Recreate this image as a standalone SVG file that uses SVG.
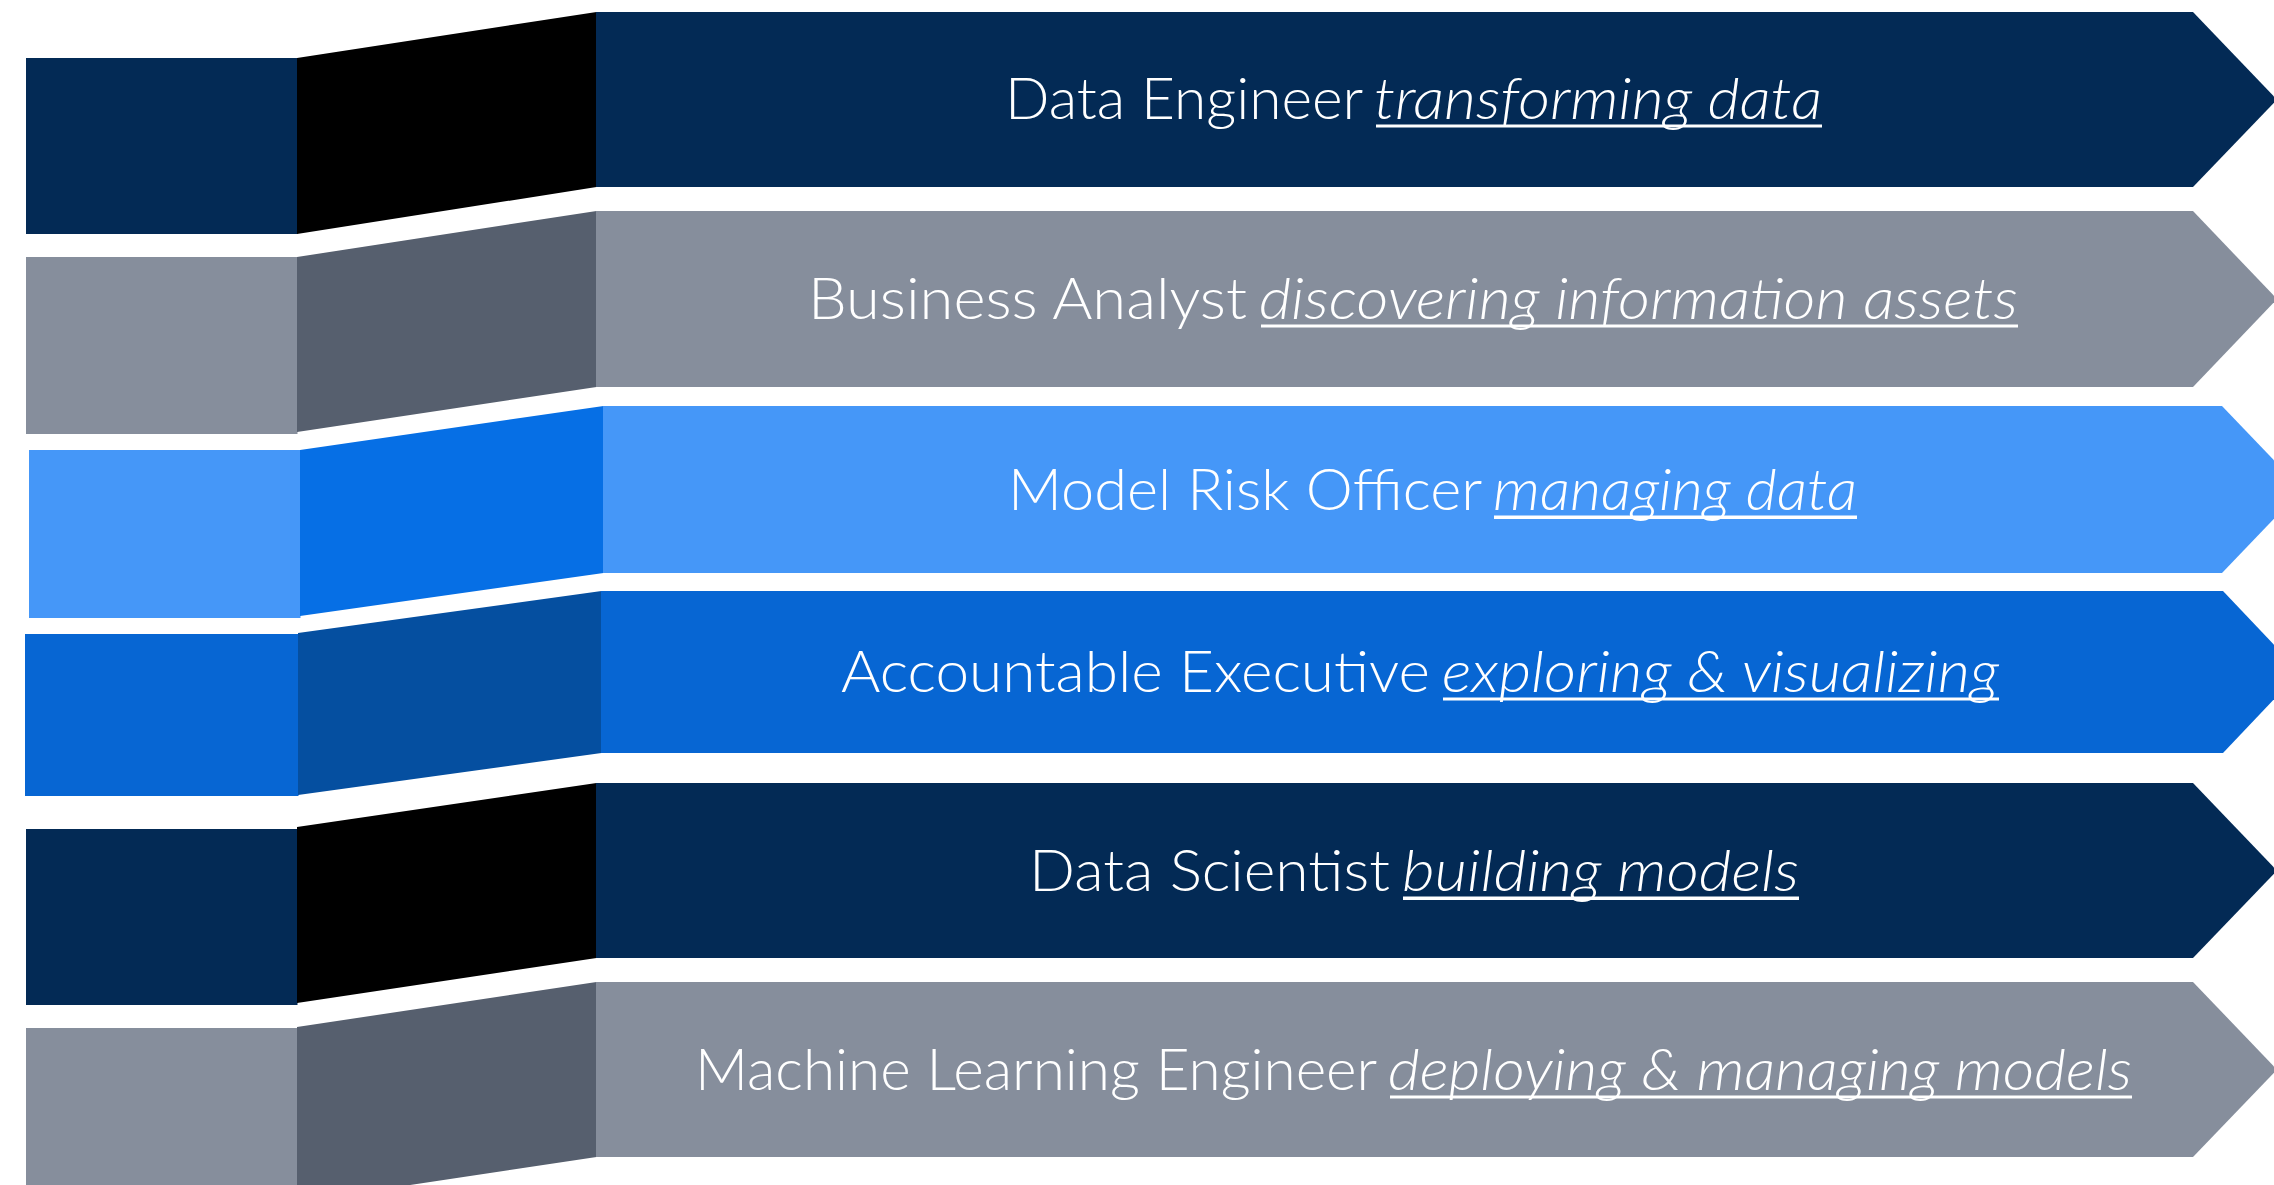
<svg xmlns="http://www.w3.org/2000/svg" width="2274" height="1185" viewBox="0 0 2274 1185">
<style>
.navy{fill:#032a55}
.black{fill:#000000}
.gray{fill:#868e9c}
.dgray{fill:#565f6e}
.lblue{fill:#4597f8}
.blue{fill:#066fe5}
.mblue{fill:#0766d3}
.dblue{fill:#054fa0}
.lbl{font-family:Lato,"Open Sans","Liberation Sans",sans-serif;font-weight:300;font-size:57px;fill:#ffffff}
.it{font-style:italic}
.ul{fill:#ffffff}
</style>
<rect width="2274" height="1185" fill="#ffffff"/>
<g id="row1">
<rect class="navy" x="26" y="58" width="271.5" height="176"/>
<polygon class="black" points="297,58 596.5,12 596.5,187 297,234"/>
<polygon class="navy" points="596,12 2193,12 2277,99.5 2193,187 596,187"/>
<text class="lbl" y="119"><tspan x="1005" textLength="357" lengthAdjust="spacingAndGlyphs">Data Engineer</tspan> <tspan class="it" x="1374" textLength="448" lengthAdjust="spacingAndGlyphs">transforming data</tspan></text>
<rect class="ul" x="1376" y="124.5" width="446" height="3"/>
</g>
<g id="row2">
<rect class="gray" x="26" y="257" width="271.5" height="177"/>
<polygon class="dgray" points="297,257 596.5,211 596.5,387 297,432"/>
<polygon class="gray" points="596,211 2193,211 2277,299 2193,387 596,387"/>
<text class="lbl" y="319"><tspan x="808" textLength="439" lengthAdjust="spacingAndGlyphs">Business Analyst</tspan> <tspan class="it" x="1259" textLength="759" lengthAdjust="spacingAndGlyphs">discovering information assets</tspan></text>
<rect class="ul" x="1261" y="324.5" width="757" height="3"/>
</g>
<g id="row3">
<rect class="lblue" x="29" y="450" width="271.5" height="168"/>
<polygon class="blue" points="300,450 603.5,406 603.5,573 300,616"/>
<polygon class="lblue" points="603,406 2222,406 2302,489.5 2222,573 603,573"/>
<text class="lbl" y="510"><tspan x="1008" textLength="473" lengthAdjust="spacingAndGlyphs">Model Risk Officer</tspan> <tspan class="it" x="1493" textLength="364" lengthAdjust="spacingAndGlyphs">managing data</tspan></text>
<rect class="ul" x="1494" y="515.5" width="363" height="3.5"/>
</g>
<g id="row4">
<rect class="mblue" x="25" y="634" width="273.5" height="162"/>
<polygon class="dblue" points="298,633 601.5,591 601.5,753 298,795"/>
<polygon class="mblue" points="601,591 2223,591 2300,672 2223,753 601,753"/>
<text class="lbl" y="692"><tspan x="841" textLength="589" lengthAdjust="spacingAndGlyphs">Accountable Executive</tspan> <tspan class="it" x="1442" textLength="557" lengthAdjust="spacingAndGlyphs">exploring &amp; visualizing</tspan></text>
<rect class="ul" x="1443" y="697.5" width="556" height="3"/>
</g>
<g id="row5">
<rect class="navy" x="26" y="829" width="271.5" height="176"/>
<polygon class="black" points="297,827 596.5,783 596.5,958 297,1003"/>
<polygon class="navy" points="596,783 2193,783 2277,870.5 2193,958 596,958"/>
<text class="lbl" y="891"><tspan x="1029" textLength="361" lengthAdjust="spacingAndGlyphs">Data Scientist</tspan> <tspan class="it" x="1402" textLength="397" lengthAdjust="spacingAndGlyphs">building models</tspan></text>
<rect class="ul" x="1403" y="896.5" width="396" height="3.5"/>
</g>
<g id="row6">
<rect class="gray" x="26" y="1028" width="271.5" height="180"/>
<polygon class="dgray" points="297,1027 596.5,982 596.5,1157 297,1202"/>
<polygon class="gray" points="596,982 2193,982 2277,1069.5 2193,1157 596,1157"/>
<text class="lbl" y="1090"><tspan x="695" textLength="681" lengthAdjust="spacingAndGlyphs">Machine Learning Engineer</tspan> <tspan class="it" x="1388" textLength="744" lengthAdjust="spacingAndGlyphs">deploying &amp; managing models</tspan></text>
<rect class="ul" x="1390" y="1095.5" width="742" height="3"/>
</g>
</svg>
